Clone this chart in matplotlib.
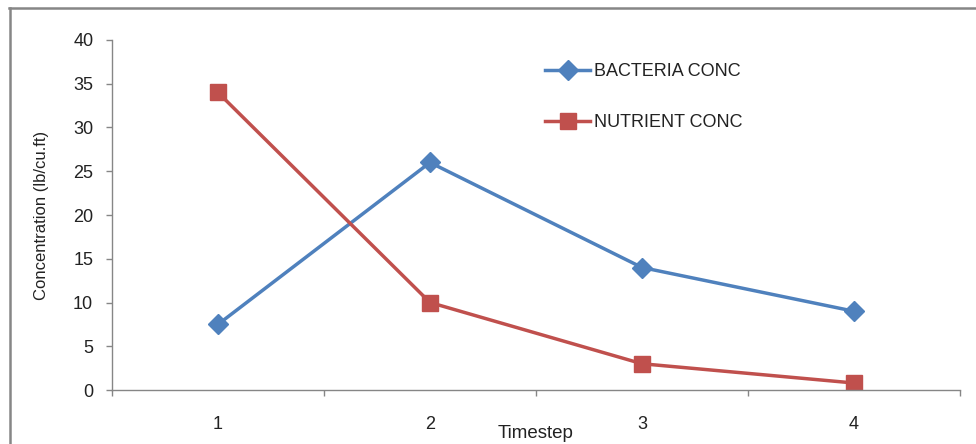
import matplotlib
matplotlib.use("Agg")
import matplotlib.pyplot as plt
from matplotlib.lines import Line2D
import numpy as np

plt.rcParams['font.family'] = ['Liberation Sans', 'DejaVu Sans']

categories = ["1", "2", "3", "4"]
bacteria = [7.5, 26, 14, 9]
nutrient = [34, 10, 3, 0.8]
series_names = ["BACTERIA CONC", "NUTRIENT CONC"]
y_ticks = [0, 5, 10, 15, 20, 25, 30, 35, 40]

W, H = 976, 444
fig = plt.figure(figsize=(W / 100, H / 100), dpi=100)
ax = fig.add_axes([112 / W, 1 - 390 / H, (960 - 112) / W, 350 / H])

x = np.arange(len(categories))
blue = "#4F81BD"
red = "#C0504D"
grey = "#868686"
txt = "#222222"

ax.plot(x, bacteria, color=blue, lw=2.5, marker="D", markersize=10,
        markeredgecolor=blue, markerfacecolor=blue, label=series_names[0])
ax.plot(x, nutrient, color=red, lw=2.5, marker="s", markersize=12,
        markeredgecolor=red, markerfacecolor=red, label=series_names[1])

ax.set_xlim(-0.5, len(categories) - 0.5)
ax.set_ylim(0, 40)
ax.set_yticks(y_ticks)
ax.set_xticks(x)
ax.set_xticklabels(categories)
ax.set_xticks(np.arange(len(categories) + 1) - 0.5, minor=True)
ax.tick_params(axis="x", which="major", length=0, pad=18.5, labelsize=13, colors=txt)
ax.tick_params(axis="x", which="minor", length=4.5, color=grey, width=1)
ax.tick_params(axis="y", length=4.5, color=grey, width=1, pad=9, labelsize=13, labelcolor=txt)

for s in ["top", "right"]:
    ax.spines[s].set_visible(False)
for s in ["left", "bottom"]:
    ax.spines[s].set_color(grey)
    ax.spines[s].set_linewidth(1)

ax.set_ylabel("Concentration (lb/cu.ft)", fontsize=12, color=txt, va="center")
ax.yaxis.set_label_coords((42 - 112) / 848, 0.5)
ax.set_xlabel("Timestep", fontsize=13.5, color=txt, va="center")
ax.xaxis.set_label_coords(0.5, (390 - 433) / 350)

leg = ax.legend(loc="upper left", bbox_to_anchor=(545 / W, 1 - 63 / H),
                bbox_transform=fig.transFigure, frameon=False, borderpad=0,
                fontsize=13, handlelength=2.5, handletextpad=0.2,
                labelspacing=1.9, borderaxespad=0)
for t in leg.get_texts():
    t.set_color(txt)

# outer chart border (top and left visible)
fig.add_artist(Line2D([9 / W, 1], [1 - 8.5 / H, 1 - 8.5 / H], transform=fig.transFigure,
                      color=grey, lw=1.8))
fig.add_artist(Line2D([9.5 / W, 9.5 / W], [0, 1 - 8.5 / H], transform=fig.transFigure,
                      color=grey, lw=1.8))

fig.savefig("out.png", dpi=100)
